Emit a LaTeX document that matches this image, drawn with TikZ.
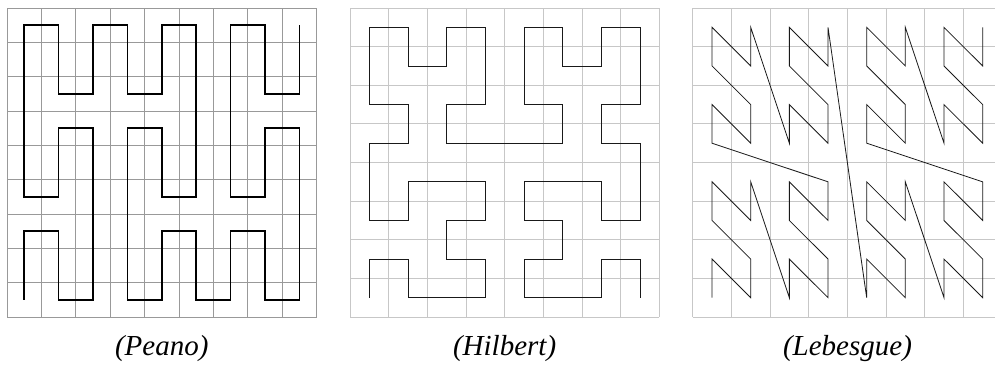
\documentclass[tikz,border=0pt]{standalone}
\usepackage{fontspec}
\setmainfont{Liberation Serif}
\begin{document}
\begin{tikzpicture}[x=1pt,y=1pt,
  gridA/.style={draw=black!40,line width=0.9pt},
  gridB/.style={draw=black!22,line width=0.9pt},
  peanocurve/.style={draw=black,line width=1.6pt,line join=miter},
  thincurve/.style={draw=black!90,line width=0.8pt,line join=miter},
  caption/.style={font=\fontsize{29}{30}\selectfont\itshape,anchor=base,inner sep=0pt}]
\clip (0,0) rectangle (995,365);
\fill[white] (0,0) rectangle (995,365);
% Peano
\begin{scope}[shift={(7,48)},x=34.39pt,y=34.33pt]
  \foreach \k in {0,...,9} {
    \draw[gridA] (\k,0) -- (\k,9);
    \draw[gridA] (0,\k) -- (9,\k);
  }
  \begin{scope}[shift={(0.5,0.5)}]
  \draw[peanocurve] (0,0) -- (0,2) -- (1,2) -- (1,0) -- (2,0) -- (2,5) -- (1,5) -- (1,3) -- (0,3) -- (0,8)
    -- (1,8) -- (1,6) -- (2,6) -- (2,8) -- (3,8) -- (3,6) -- (4,6) -- (4,8) -- (5,8) -- (5,3) -- (4,3)
    -- (4,5) -- (3,5) -- (3,0) -- (4,0) -- (4,2) -- (5,2) -- (5,0) -- (6,0) -- (6,2) -- (7,2) -- (7,0)
    -- (8,0) -- (8,5) -- (7,5) -- (7,3) -- (6,3) -- (6,8) -- (7,8) -- (7,6) -- (8,6) -- (8,8);
  \end{scope}
\end{scope}
% Hilbert
\begin{scope}[shift={(350,48)},x=38.66pt,y=38.62pt]
  \foreach \k in {0,...,8} {
    \draw[gridB] (\k,0) -- (\k,8);
    \draw[gridB] (0,\k) -- (8,\k);
  }
  \begin{scope}[shift={(0.5,0.5)}]
  \draw[thincurve] (0,0) -- (0,1) -- (1,1) -- (1,0) -- (3,0) -- (3,1) -- (2,1) -- (2,2) -- (3,2) -- (3,3)
    -- (1,3) -- (1,2) -- (0,2) -- (0,4) -- (1,4) -- (1,5) -- (0,5) -- (0,7) -- (1,7) -- (1,6) -- (2,6)
    -- (2,7) -- (3,7) -- (3,5) -- (2,5) -- (2,4) -- (5,4) -- (5,5) -- (4,5) -- (4,7) -- (5,7) -- (5,6)
    -- (6,6) -- (6,7) -- (7,7) -- (7,5) -- (6,5) -- (6,4) -- (7,4) -- (7,2) -- (6,2) -- (6,3) -- (4,3)
    -- (4,2) -- (5,2) -- (5,1) -- (4,1) -- (4,0) -- (6,0) -- (6,1) -- (7,1) -- (7,0);
  \end{scope}
\end{scope}
% Lebesgue
\begin{scope}[shift={(692.7,48)},x=38.66pt,y=38.62pt]
  \foreach \k in {0,...,8} {
    \draw[gridB] (\k,0) -- (\k,8);
    \draw[gridB] (0,\k) -- (8,\k);
  }
  \begin{scope}[shift={(0.5,0.5)}]
  \draw[thincurve] (0,0) -- (0,1) -- (1,0) -- (1,1) -- (0,2) -- (0,3) -- (1,2) -- (1,3)
    -- (2,0) -- (2,1) -- (3,0) -- (3,1) -- (2,2) -- (2,3) -- (3,2) -- (3,3)
    -- (0,4) -- (0,5) -- (1,4) -- (1,5) -- (0,6) -- (0,7) -- (1,6) -- (1,7)
    -- (2,4) -- (2,5) -- (3,4) -- (3,5) -- (2,6) -- (2,7) -- (3,6) -- (3,7)
    -- (4,0) -- (4,1) -- (5,0) -- (5,1) -- (4,2) -- (4,3) -- (5,2) -- (5,3)
    -- (6,0) -- (6,1) -- (7,0) -- (7,1) -- (6,2) -- (6,3) -- (7,2) -- (7,3)
    -- (4,4) -- (4,5) -- (5,4) -- (5,5) -- (4,6) -- (4,7) -- (5,6) -- (5,7)
    -- (6,4) -- (6,5) -- (7,4) -- (7,5) -- (6,6) -- (6,7) -- (7,6) -- (7,7);
  \end{scope}
\end{scope}
% captions
\node[caption] (peano) at (161.7,10) {(Peano)};
\node[caption] (hilbert) at (504.6,10) {(Hilbert)};
\node[caption] (lebesgue) at (847.5,10) {(Lebesgue)};
\end{tikzpicture}
\end{document}
